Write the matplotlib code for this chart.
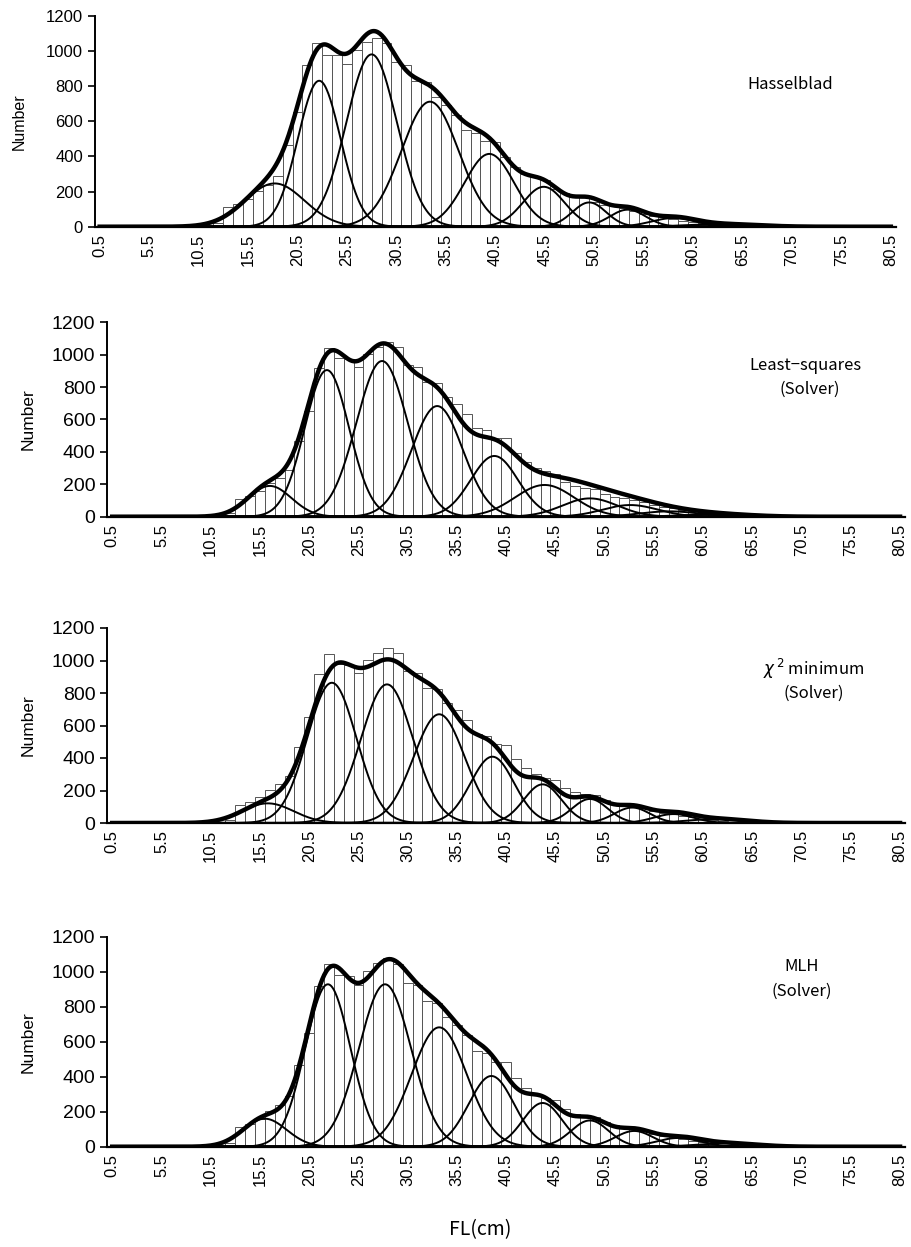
import numpy as np
import matplotlib
matplotlib.use("Agg")
import matplotlib.pyplot as plt

plt.rcParams['font.family'] = ['Liberation Sans', 'DejaVu Sans']

# FL classes (cm) and observed counts, same histogram in every panel
fl_classes = np.arange(0.5, 81.0, 1.0)
counts = [0, 0, 0, 0, 0, 0, 0, 0, 0, 0,
          0, 0, 20, 110, 130, 160, 205, 240, 290, 465,
          650, 917, 1042, 979, 975, 925, 1005, 1048, 1076, 1045,
          935, 922, 830, 824, 739, 694, 636, 548, 534, 485,
          483, 394, 337, 299, 280, 265, 214, 189, 176, 170,
          140, 122, 115, 106, 91, 72, 62, 53, 44, 34,
          25, 19, 12, 9, 6, 5, 4, 3, 2, 2,
          1, 1, 1, 0, 0, 0, 0, 0, 0, 0, 0]
tick_labels = ["0.5", "5.5", "10.5", "15.5", "20.5", "25.5", "30.5", "35.5", "40.5",
               "45.5", "50.5", "55.5", "60.5", "65.5", "70.5", "75.5", "80.5"]

# normal components: mean, sd, peak height
hb_mean = [18.2, 22.7, 28.0, 33.9, 39.9, 45.4, 50.0, 53.9, 58.5, 63.5]
hb_sd = [3.0, 2.15, 2.55, 2.9, 2.5, 2.1, 1.7, 1.8, 2.2, 3.5]
hb_peak = [246, 830, 980, 711, 414, 227, 138, 97, 49, 15]

ls_mean = [16.5, 22.3, 27.9, 33.5, 39.3, 44.4, 49.0, 53.1, 57.1, 62.0]
ls_sd = [2.2, 2.25, 2.6, 2.6, 2.4, 3.0, 2.8, 2.8, 3.0, 3.5]
ls_peak = [190, 905, 961, 683, 375, 196, 113, 72, 33, 15]

chi_mean = [16.3, 22.8, 28.4, 33.7, 39.1, 44.2, 49.0, 53.3, 57.5, 62.0]
chi_sd = [2.6, 2.5, 2.65, 2.6, 2.2, 1.9, 1.8, 1.8, 2.0, 3.0]
chi_peak = [121, 863, 853, 669, 408, 238, 148, 95, 55, 25]

mlh_mean = [16.0, 22.4, 28.2, 33.7, 39.0, 44.2, 49.0, 53.5, 58.0, 63.0]
mlh_sd = [2.2, 2.3, 2.65, 2.8, 2.3, 2.0, 1.9, 1.9, 2.2, 3.0]
mlh_peak = [160, 928, 928, 682, 404, 250, 150, 90, 50, 20]

W, H = 911, 1247
fig = plt.figure(figsize=(W / 100, H / 100), dpi=100)

panels = [
    dict(box=(94.7, 895.8, 15.7, 226.7), comp=(hb_mean, hb_sd, hb_peak),
         text=["Hasselblad"], tpos=[(0.868, 0.675)], ytick=12, ylab=11.5, pad=14),
    dict(box=(107.3, 905, 322.3, 516.7), comp=(ls_mean, ls_sd, ls_peak),
         text=["Least\u2212squares", "(Solver)"], tpos=[(0.875, 0.78), (0.88, 0.655)],
         ytick=14, ylab=12.5, pad=12),
    dict(box=(107.3, 905, 628, 823), comp=(chi_mean, chi_sd, chi_peak),
         text=[r"$\chi^{\,2}$ minimum", "(Solver)"], tpos=[(0.885, 0.79), (0.885, 0.665)],
         ytick=14, ylab=12.5, pad=12),
    dict(box=(107.3, 905, 936.7, 1146.7), comp=(mlh_mean, mlh_sd, mlh_peak),
         text=["MLH", "(Solver)"], tpos=[(0.87, 0.86), (0.87, 0.74)],
         ytick=14, ylab=12.5, pad=12),
]

xs = np.linspace(0.5, 80.5, 800)

for p in panels:
    l, r, t, b = p["box"]
    ax = fig.add_axes([l / W, 1 - b / H, (r - l) / W, (b - t) / H])
    ax.bar(fl_classes, counts, width=1.0, color="white", edgecolor="#555555", linewidth=0.7, zorder=1)
    means, sds, peaks = p["comp"]
    total = np.zeros_like(xs)
    for m, s, h in zip(means, sds, peaks):
        y = h * np.exp(-0.5 * ((xs - m) / s) ** 2)
        total += y
        ax.plot(xs, y, color="black", lw=1.4, zorder=2)
    ax.plot(xs, total, color="black", lw=3.2, zorder=3)

    ax.set_xlim(0, 81)
    ax.set_ylim(0, 1200)
    ax.set_yticks(range(0, 1201, 200))
    ax.set_xticks(np.arange(0.5, 81, 5))
    ax.set_xticklabels(tick_labels, rotation=90, fontsize=12)
    ax.tick_params(axis="x", length=0, pad=5)
    ax.tick_params(axis="y", direction="out", length=5, width=1.2, labelsize=p["ytick"])
    for s in ["top", "right"]:
        ax.spines[s].set_visible(False)
    ax.spines["left"].set_linewidth(1.4)
    ax.spines["bottom"].set_linewidth(1.6)
    ax.set_ylabel("Number", fontsize=p["ylab"], labelpad=p["pad"])

    for txt, (tx, ty) in zip(p["text"], p["tpos"]):
        ax.text(tx, ty, txt, transform=ax.transAxes, ha="center", va="center",
                fontsize=12, family=["Noto Sans CJK JP", "DejaVu Sans"])

fig.text(480 / W, 1 - 1230 / H, "FL(cm)", ha="center", va="center", fontsize=14,
         family=["Noto Sans CJK JP", "DejaVu Sans"])

fig.savefig("out.png", dpi=100)
